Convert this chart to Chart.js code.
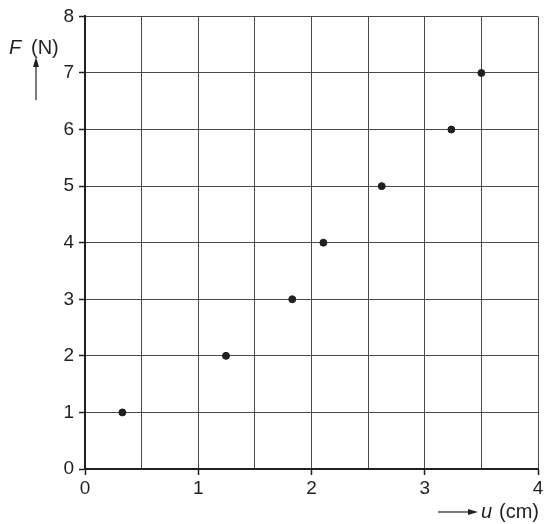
<!DOCTYPE html>
<html lang="en">
<head>
  <meta charset="UTF-8">
  <title>F against u</title>
  <script src="https://cdn.jsdelivr.net/npm/chart.js"></script>
  <style>
    body { margin: 0; background: #fff; }
    canvas { display: block; }
  </style>
</head>
<body>
  <canvas id="chart" width="546" height="524"></canvas>

  <script>
    const uValues = [0.33, 1.245, 1.83, 2.105, 2.62, 3.235, 3.5];
    const fValues = [1, 2, 3, 4, 5, 6, 7];
    const xTicks = [0, 1, 2, 3, 4];
    const yTicks = [0, 1, 2, 3, 4, 5, 6, 7, 8];

    const ink = '#231f20';
    const font = '"Liberation Sans", Arial, sans-serif';

    // axis captions with small arrows
    const captions = {
      id: 'captions',
      afterDraw(chart) {
        const c = chart.ctx;
        c.save();
        c.fillStyle = ink;
        c.strokeStyle = ink;
        c.lineWidth = 1.2;
        c.textBaseline = 'middle';

        // F (N) with up arrow
        c.font = 'italic 20px ' + font;
        c.textAlign = 'left';
        c.fillText('F', 9, 48);
        c.font = '20px ' + font;
        c.fillText('(N)', 31, 48);
        c.beginPath();
        c.moveTo(36, 100);
        c.lineTo(36, 64);
        c.stroke();
        c.beginPath();
        c.moveTo(36, 57);
        c.lineTo(33, 67);
        c.lineTo(39, 67);
        c.closePath();
        c.fill();

        // right arrow with u (cm)
        c.beginPath();
        c.moveTo(438, 512);
        c.lineTo(470, 512);
        c.stroke();
        c.beginPath();
        c.moveTo(478, 512);
        c.lineTo(468, 509);
        c.lineTo(468, 515);
        c.closePath();
        c.fill();
        c.font = 'italic 20px ' + font;
        c.fillText('u', 481, 512);
        c.font = '20px ' + font;
        c.fillText('(cm)', 499, 512);
        c.restore();
      }
    };

    const isWhole = v => Math.abs(v - Math.round(v)) < 1e-6;

    new Chart(document.getElementById('chart'), {
      type: 'scatter',
      data: {
        datasets: [{
          data: uValues.map((u, i) => ({ x: u, y: fValues[i] })),
          backgroundColor: ink,
          borderColor: ink,
          pointRadius: 3.5,
          pointHoverRadius: 3.5
        }]
      },
      options: {
        responsive: false,
        animation: false,
        layout: { padding: { top: 15, right: 8, left: 0, bottom: 0 } },
        plugins: {
          legend: { display: false },
          tooltip: { enabled: false }
        },
        scales: {
          x: {
            type: 'linear',
            min: 0,
            max: 4,
            afterFit: s => { s.height = 55; },
            afterBuildTicks: s => {
              s.ticks = [];
              for (let v = 0; v <= 8; v++) s.ticks.push({ value: v / 2 });
            },
            ticks: {
              padding: 2,
              color: ink,
              font: { size: 19, family: font },
              maxRotation: 0,
              autoSkip: false,
              callback: v => (xTicks.includes(v) ? String(v) : '')
            },
            grid: {
              color: '#4a4a4a',
              lineWidth: 1,
              tickLength: 6,
              tickColor: ctx => (isWhole(ctx.tick.value) ? ink : 'rgba(0,0,0,0)'),
              tickWidth: 1.5
            },
            border: { display: true, color: ink, width: 2 }
          },
          y: {
            min: 0,
            max: 8,
            afterFit: s => { s.width = 85; },
            afterBuildTicks: s => {
              s.ticks = yTicks.map(v => ({ value: v }));
            },
            ticks: {
              padding: 5,
              color: ink,
              font: { size: 19, family: font },
              callback: v => String(v)
            },
            grid: {
              color: '#4a4a4a',
              lineWidth: 1,
              tickLength: 6,
              tickColor: ink,
              tickWidth: 1.5
            },
            border: { display: true, color: ink, width: 2 }
          }
        }
      },
      plugins: [captions]
    });
  </script>
</body>
</html>
